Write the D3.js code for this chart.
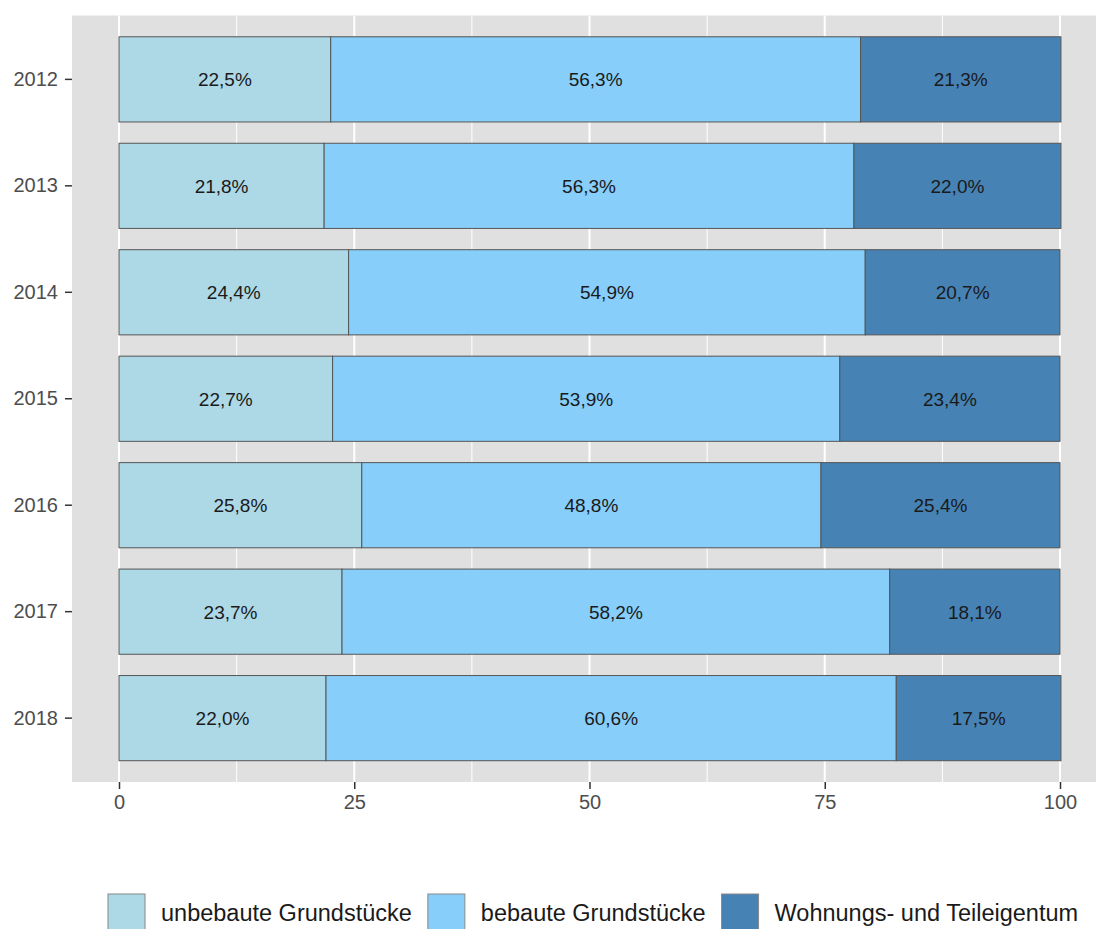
<!DOCTYPE html>
<html>
<head>
<meta charset="utf-8">
<script src="https://cdn.jsdelivr.net/npm/d3@7"></script>
<style>
  body { margin: 0; background: #fff; }
  svg { display: block; font-family: "Liberation Sans", Arial, sans-serif; }
</style>
</head>
<body>
<script>
// data
let years = ['2012', '2013', '2014', '2015', '2016', '2017', '2018'];
let categories = ['unbebaute Grundstücke', 'bebaute Grundstücke', 'Wohnungs- und Teileigentum'];
let unbebaut = [22.5, 21.8, 24.4, 22.7, 25.8, 23.7, 22.0];
let bebaut = [56.3, 56.3, 54.9, 53.9, 48.8, 58.2, 60.6];
let wohnung = [21.3, 22.0, 20.7, 23.4, 25.4, 18.1, 17.5];
let xTicks = [0, 25, 50, 75, 100];
let colors = ['#ADD8E6', '#87CEFA', '#4682B4'];

let width = 1096, height = 929;
let margin = { top: 15.5, bottom: 147 };

let svg = d3.select('body').append('svg')
    .attr('width', width)
    .attr('height', height);

let table = years.map((y, i) => ({ year: y, values: [unbebaut[i], bebaut[i], wohnung[i]] }));

// scales
let xScale = d3.scaleLinear()
    .domain([0, 100])
    .range([119, 1060]);
let yScale = d3.scaleBand()
    .domain(years)
    .range([margin.top, height - margin.bottom])
    .paddingInner(0.2)
    .paddingOuter(0.2);

let panelLeft = xScale(-5), panelRight = xScale(105);
let panelTop = margin.top, panelBottom = height - margin.bottom;

// panel background
svg.append('rect')
    .attr('x', panelLeft)
    .attr('y', panelTop)
    .attr('width', panelRight - panelLeft)
    .attr('height', panelBottom - panelTop)
    .attr('fill', '#e0e0e0');

// grid lines
let minor = [12.5, 37.5, 62.5, 87.5];
svg.append('g').selectAll('line')
    .data(minor)
    .enter()
    .append('line')
    .attr('x1', d => xScale(d))
    .attr('x2', d => xScale(d))
    .attr('y1', panelTop)
    .attr('y2', panelBottom)
    .attr('stroke', '#fff')
    .attr('stroke-width', 1);
svg.append('g').selectAll('line')
    .data(xTicks)
    .enter()
    .append('line')
    .attr('x1', d => xScale(d))
    .attr('x2', d => xScale(d))
    .attr('y1', panelTop)
    .attr('y2', panelBottom)
    .attr('stroke', '#fff')
    .attr('stroke-width', 2);

// stacked bars
let stack = d3.stack()
    .keys([0, 1, 2])
    .value((d, k) => d.values[k]);
let series = stack(table);

let groups = svg.append('g').selectAll('g')
    .data(series)
    .enter()
    .append('g')
    .attr('fill', (d, i) => colors[i]);

groups.selectAll('rect')
    .data(d => d)
    .enter()
    .append('rect')
    .attr('x', d => xScale(d[0]))
    .attr('y', d => yScale(d.data.year))
    .attr('width', d => xScale(d[1]) - xScale(d[0]))
    .attr('height', yScale.bandwidth())
    .attr('stroke', '#555')
    .attr('stroke-width', 1);

// labels
let fmt = v => v.toFixed(1).replace('.', ',') + '%';
groups.selectAll('text')
    .data((d, i) => d.map(p => ({ p: p, v: p.data.values[i] })))
    .enter()
    .append('text')
    .attr('x', d => xScale((d.p[0] + d.p[1]) / 2))
    .attr('y', d => yScale(d.p.data.year) + yScale.bandwidth() / 2)
    .attr('dy', '0.36em')
    .attr('text-anchor', 'middle')
    .attr('fill', '#1a1a1a')
    .style('font-size', '19px')
    .text(d => fmt(d.v));

// axes
let xAxis = d3.axisBottom(xScale).tickValues(xTicks).tickSize(7).tickPadding(6);
let xAxisGroup = svg.append('g')
    .attr('transform', `translate(0, ${panelBottom})`)
    .call(xAxis);
xAxisGroup.select('.domain').remove();
xAxisGroup.selectAll('line').attr('stroke', '#333').attr('stroke-width', 1.5);
xAxisGroup.selectAll('text')
    .attr('fill', '#4d4d4d')
    .style('font-size', '20px')
    .style('font-family', '"Liberation Sans", Arial, sans-serif');

let yAxis = d3.axisLeft(yScale).tickSize(7).tickPadding(7);
let yAxisGroup = svg.append('g')
    .attr('transform', `translate(${panelLeft}, 0)`)
    .call(yAxis);
yAxisGroup.select('.domain').remove();
yAxisGroup.selectAll('line').attr('stroke', '#333').attr('stroke-width', 1.5);
yAxisGroup.selectAll('text')
    .attr('fill', '#4d4d4d')
    .style('font-size', '20px')
    .style('font-family', '"Liberation Sans", Arial, sans-serif');

// legend
let keySize = 37;
let legend = svg.append('g')
    .attr('transform', 'translate(108, 894)');
let cursor = 0;
categories.forEach((c, i) => {
    let item = legend.append('g').attr('transform', `translate(${cursor}, 0)`);
    item.append('rect')
        .attr('width', keySize)
        .attr('height', keySize)
        .attr('fill', colors[i])
        .attr('stroke', '#888')
        .attr('stroke-width', 1);
    let label = item.append('text')
        .attr('x', keySize + 16)
        .attr('y', keySize / 2)
        .attr('dy', '0.36em')
        .attr('fill', '#1a1a1a')
        .style('font-size', '23.5px')
        .text(c);
    cursor += keySize + 16 + label.node().getComputedTextLength() + 16;
});
</script>
</body>
</html>
